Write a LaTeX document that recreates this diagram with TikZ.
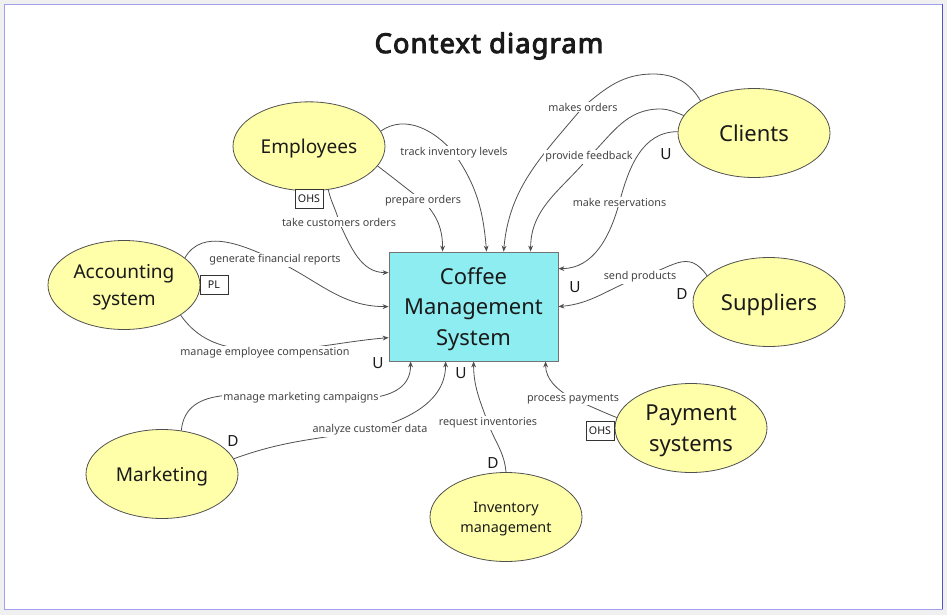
\documentclass[tikz,border=0pt]{standalone}
\usepackage{fontspec}
\setmainfont{Noto Sans}
\newfontfamily\titlefont{Noto Sans}[FakeBold=3.5,LetterSpace=4]
\usetikzlibrary{shapes.geometric,arrows.meta,calc}
\definecolor{ellc}{HTML}{FFFFAA}
\definecolor{cmsc}{HTML}{8EEDF0}
\definecolor{linec}{HTML}{505050}
\definecolor{txtc}{HTML}{1A1A1A}
\definecolor{lblc}{HTML}{444444}
\definecolor{bgc}{HTML}{F0F0F0}
\definecolor{framec}{HTML}{A0A0EE}
\definecolor{framer}{HTML}{5050D0}
\tikzset{
  ent/.style={ellipse, draw=linec, fill=ellc, line width=0.6pt, minimum width=114pt, minimum height=66.75pt, inner sep=0pt, align=center, text=txtc, text depth=0pt},
  bigf/.style={font=\fontsize{16.5pt}{23pt}\selectfont},
  midf/.style={font=\fontsize{14.3pt}{19.8pt}\selectfont},
  smallf/.style={font=\fontsize{10.8pt}{15pt}\selectfont},
  conn/.style={draw=linec, line width=0.6pt, -{Stealth[length=4.5pt,width=3.6pt]}},
  lbl/.style={fill=white, inner sep=1pt, text=lblc, font=\fontsize{8.1pt}{10pt}\selectfont},
  tagbox/.style={draw=black!80, fill=white, line width=0.6pt, minimum width=21pt, minimum height=14.25pt, inner sep=0pt, text=txtc, font=\fontsize{8pt}{9pt}\selectfont},
  udl/.style={text=txtc, font=\fontsize{11.5pt}{13pt}\selectfont, inner sep=0pt},
}
\begin{document}
\begin{tikzpicture}[x=0.75pt,y=-0.75pt]
\useasboundingbox (0,0) rectangle (947,615);
\fill[bgc] (0,0) rectangle (947,615);
\draw[framec, fill=white, line width=0.75pt] (4,4) rectangle (942,609);
\draw[framer, line width=0.75pt] (942,4) -- (942,609);

\node[anchor=base, text=txtc, font=\titlefont\fontsize{20.5pt}{24pt}\selectfont] (title) at (489,53) {Context diagram};

\node[draw=linec!80, fill=cmsc, line width=0.6pt, minimum width=126.75pt, minimum height=81.75pt, inner sep=0pt, align=center, text=txtc, text depth=0pt, bigf] (cms) at (473.5,306.5) {Coffee\\Management\\System};

\node[ent, midf, yshift=-1pt] (emp) at (309,145) {Employees};
\node[ent, bigf] (cli) at (754,133) {Clients};
\node[ent, bigf] (sup) at (769,302) {Suppliers};
\node[ent, midf] (acc) at (124,285) {Accounting\\system};
\node[ent, midf] (mkt) at (162,474) {Marketing};
\node[ent, smallf] (inv) at (506,517) {Inventory\\management};
\node[ent, bigf] (pay) at (691,428) {Payment\\systems};

\node[tagbox] (ohs1) at (309,199) {OHS};
\node[tagbox] (pl) at (214,285) {PL};
\node[tagbox] (ohs2) at (600,431) {OHS};

% Employees
\draw[conn] (emp.12) to[out=35,in=130] (454,153) node[lbl]{track inventory levels}
  to[out=-55,in=95] ($(cms.north west)+(98,0)$);
\draw[conn] (emp.-16) to[out=-37,in=143] (423,201) node[lbl]{prepare orders}
  to[out=-45,in=90] ($(cms.north west)+(54,0)$);
\draw[conn] (emp.-66) to[out=-78,in=103] (339,222) node[lbl]{take customers orders}
  to[out=-65,in=180] ($(cms.north west)+(0,21)$);

% Clients
\draw[conn] (cli.149) to[out=120,in=0] (653,74) to[out=180,in=40] (583,107) node[lbl]{makes orders}
  to[out=-130,in=85] ($(cms.north west)+(115,0)$);
\draw[conn] (cli.166) to[out=160,in=0] (660,109) to[out=180,in=45] (589,157) node[lbl]{provide feedback}
  to[out=-130,in=90] ($(cms.north west)+(142,0)$);
\draw[conn] (cli.179) to[out=180,in=75] (619.5,202) node[lbl]{make reservations}
  to[out=-105,in=0] ($(cms.north east)+(0,17)$);

% Suppliers
\draw[conn] (sup.157) to[out=125,in=15,looseness=1.3] (640,277) node[lbl]{send products}
  to[out=-160,in=5] ($(cms.north east)+(0,55)$);

% Accounting
\draw[conn] (acc.24) to[out=60,in=155] (275,260) node[lbl]{generate financial reports}
  to[out=-25,in=180] ($(cms.north west)+(0,55)$);
\draw[conn] (acc.-28) to[out=-55,in=180] (265,350) node[lbl,yshift=-2.25pt]{manage employee compensation}
  to[out=0,in=185] ($(cms.north west)+(0,86)$);

% Marketing
\draw[conn] (mkt.66) to[out=85,in=178] (301,398) node[lbl]{manage marketing campaigns}
  to[out=-2,in=-90] ($(cms.south west)+(22,0)$);
\draw[conn] (mkt.12) to[out=20,in=190] (370,430) node[lbl]{analyze customer data}
  to[out=15,in=-90] ($(cms.south west)+(57,0)$);

% Inventory
\draw[conn] (inv.north) to[out=95,in=-70] (488,423) node[lbl]{request inventories}
  to[out=110,in=-90] ($(cms.south west)+(85,0)$);

% Payment
\draw[conn] (pay.172) to[out=158,in=-22] (573,399) node[lbl]{process payments}
  to[out=150,in=-90] ($(cms.south west)+(157,0)$);

% U / D markers
\node[udl] (u1) at (666,154) {U};
\node[udl] (u2) at (575,287) {U};
\node[udl] (d1) at (682,294) {D};
\node[udl] (u3) at (378,363) {U};
\node[udl] (u4) at (461,373) {U};
\node[udl] (d2) at (233,441) {D};
\node[udl] (d3) at (493,463) {D};
\end{tikzpicture}
\end{document}
